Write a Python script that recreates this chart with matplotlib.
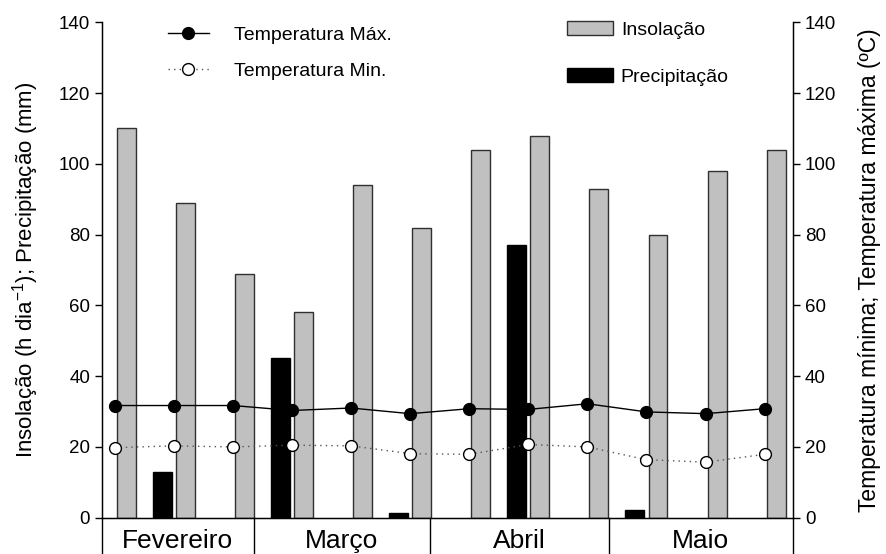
import matplotlib
matplotlib.use("Agg")
import matplotlib.pyplot as plt
from matplotlib.patches import Patch
import numpy as np

plt.rcParams['font.family'] = ['Liberation Sans', 'DejaVu Sans']
plt.rcParams['mathtext.default'] = 'regular'

# ---- data ----
months = ["Fevereiro", "Março", "Abril", "Maio"]
month_bounds = [-0.215, 2.35, 5.34, 8.36, 11.48]
insolacao = [110, 89, 69, 58, 94, 82, 104, 108, 93, 80, 98, 104]
precipitacao = [0, 12.8, 0, 45, 0, 1.2, 0, 77, 0, 2.1, 0, 0]
tmax = [31.7, 31.7, 31.7, 30.3, 31.0, 29.4, 30.8, 30.6, 32.2, 29.9, 29.4, 30.8]
tmin = [19.8, 20.3, 20.0, 20.5, 20.3, 18.1, 17.9, 20.7, 20.0, 16.4, 15.7, 17.9]
yticks = [0, 20, 40, 60, 80, 100, 120, 140]

x = np.arange(len(insolacao))
prec = np.array(precipitacao, dtype=float)
has_prec = prec > 0

fig = plt.figure(figsize=(8.87, 5.54), dpi=100)
W, H = 887, 554
left, right, bottom, top = 102, 793, 517.7, 22.3
ax = fig.add_axes([left / W, 1 - bottom / H, (right - left) / W, (bottom - top) / H])

bw = 0.32
off = 0.195
ax.bar(x + off, insolacao, width=bw, color="#c0c0c0", edgecolor="#303030", linewidth=1, zorder=2)
ax.bar(x[has_prec] - off, prec[has_prec], width=bw, color="black", edgecolor="black", linewidth=1, zorder=2)

ax.set_xlim(month_bounds[0], month_bounds[-1])
ax.set_ylim(0, 140)
ax.set_yticks(yticks)
ax.set_xticks([])
ax.spines["top"].set_visible(False)
for s in ["left", "right", "bottom"]:
    ax.spines[s].set_linewidth(1)
ax.tick_params(axis="y", direction="out", length=5, labelsize=13.5, width=1)
ax.set_ylabel("Insolação (h dia$^{-1}$); Precipitação (mm)", fontsize=16, labelpad=13)

ax2 = ax.twinx()
ax2.set_ylim(0, 140)
ax2.set_yticks(yticks)
ax2.spines["top"].set_visible(False)
ax2.tick_params(axis="y", direction="out", length=5, labelsize=13.5, width=1)
ax2.set_ylabel("Temperatura mínima; Temperatura máxima (ºC)", fontsize=16.5, labelpad=16)

l1, = ax2.plot(x, tmax, color="black", lw=1, marker="o", markersize=8.5,
               markerfacecolor="black", markeredgecolor="black", zorder=4)
l2, = ax2.plot(x, tmin, color="#555555", lw=1, ls=(0, (1, 3)), marker="o", markersize=8.5,
               markerfacecolor="white", markeredgecolor="black", zorder=4)

# month separators and labels below axis
tr = ax.get_xaxis_transform()
for b in month_bounds:
    ax.plot([b, b], [0, -0.08], transform=tr, color="black", lw=1, clip_on=False)
for i, m in enumerate(months):
    xm = (month_bounds[i] + month_bounds[i + 1]) / 2
    ax.text(xm, -0.048, m, transform=tr, ha="center", va="center", fontsize=19)

leg1 = ax2.legend([l1, l2], ["Temperatura Máx.", "Temperatura Min."],
                  loc="upper left", bbox_to_anchor=(168 / W, 1 - 26 / H),
                  bbox_transform=fig.transFigure, frameon=False, fontsize=14,
                  borderpad=0, borderaxespad=0,
                  handlelength=2.1, labelspacing=0.95, handletextpad=1.3)
ax2.add_artist(leg1)
p1 = Patch(facecolor="#c0c0c0", edgecolor="#303030")
p2 = Patch(facecolor="black", edgecolor="black")
ax2.legend([p1, p2], ["Insolação", "Precipitação"],
           loc="upper left", bbox_to_anchor=(567 / W, 1 - 21 / H),
           bbox_transform=fig.transFigure, frameon=False, fontsize=14,
           borderpad=0, borderaxespad=0,
           handlelength=2.37, handleheight=0.77, labelspacing=1.48, handletextpad=0.4)

fig.savefig("out.png", dpi=100)
